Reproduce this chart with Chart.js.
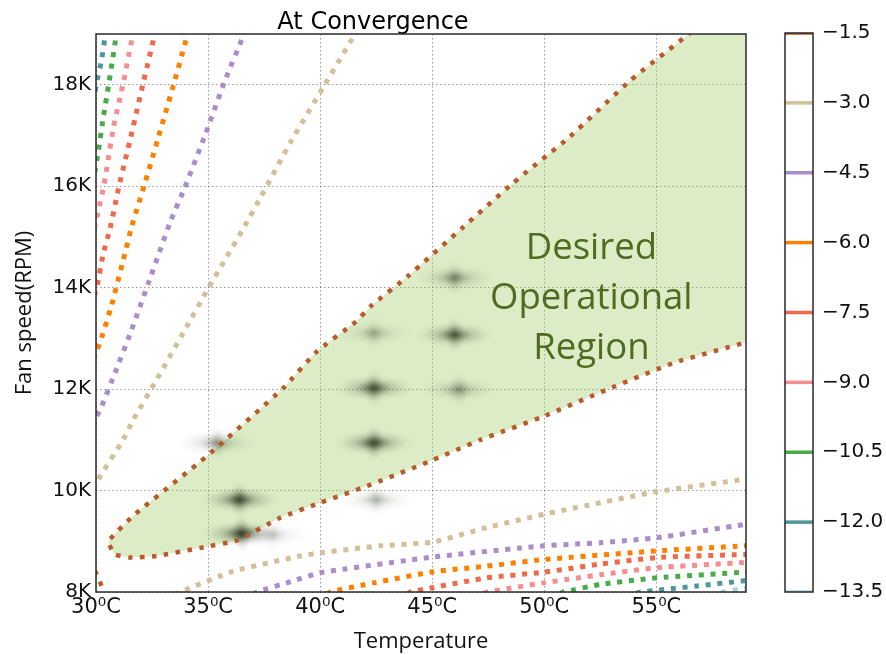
<!DOCTYPE html>
<html>
<head>
<meta charset="utf-8">
<script src="https://cdn.jsdelivr.net/npm/chart.js@4.4.1/dist/chart.umd.min.js"></script>
<style>
  html, body { margin: 0; padding: 0; background: #fff; }
  #wrap { position: relative; width: 886px; height: 655px; }
  #main { position: absolute; left: 0; top: 0; }
  #bar { position: absolute; left: 760px; top: 0; }
</style>
</head>
<body>
<div id="wrap">
  <canvas id="main" width="886" height="655"></canvas>
  <canvas id="bar" width="126" height="655"></canvas>
</div>
<script>
// Axis ticks
const tempTicks = [30, 35, 40, 45, 50, 55];
const rpmTicks = [8000, 10000, 12000, 14000, 16000, 18000];

// Contour levels shown on the colour bar
const levels = [-1.5, -3.0, -4.5, -6.0, -7.5, -9.0, -10.5, -12.0, -13.5];

// Contour paths: [temperature (°C), fan speed (RPM)]
const minus1_5Main = [[57.0,19200],[56.45,19000],[53.85,18090],[51.15,16980],[48.6,16060],[46.4,15200],[43.9,14220],[42.25,13630],[41.6,13330],[39.85,12740],[38.35,12020],[34.95,10680],[31.65,9500],[30.62,9040],[30.55,8970],[30.85,8740],[31.5,8680],[32.7,8710],[34.65,8870],[36.3,9020],[38.2,9460],[40.0,9760],[42.1,10090],[44.8,10560],[47.15,11000],[49.9,11450],[52.8,11990],[55.8,12520],[58.9,12910],[59.5,12990]];
const minus1_5Corner = [[29.95,8420],[30.1,8280],[30.4,7950]];
const minus3_0Left = [[41.7,19100],[41.56,19000],[40.15,17960],[38.66,16850],[37.32,15760],[36.58,15170],[35.76,14550],[35.01,13990],[33.97,13170],[32.71,12190],[31.67,11400],[31.22,11010],[30.10,10220],[29.9,10050]];
const minus3_0Right = [[33.5,7950],[33.75,8000],[36.13,8410],[39.11,8710],[40.15,8780],[42.68,8910],[45.0,8980],[47.44,9270],[49.96,9530],[52.5,9760],[55.04,9980],[58.9,10220],[59.5,10260]];
const minus4_5Left = [[36.65,19100],[36.55,18940],[35.76,18090],[34.87,17010],[33.94,15950],[33.30,15280],[32.45,14230],[31.59,13170],[30.85,12320],[30.25,11660],[30.03,11460],[29.9,11300]];
const minus4_5Right = [[37.0,7950],[37.17,8000],[38.81,8220],[40.0,8380],[45.06,8690],[49.97,8910],[52.5,8970],[55.03,9070],[58.9,9330],[59.5,9370]];
const minus6_0Left = [[34.12,19100],[34.05,18940],[33.50,18060],[32.78,16960],[32.19,16070],[31.59,15200],[31.22,14550],[30.70,13660],[30.25,13010],[30.06,12780],[29.9,12600]];
const minus6_0Right = [[40.3,7950],[40.45,8000],[42.38,8180],[45.06,8400],[47.44,8510],[49.97,8640],[55.03,8810],[58.9,8910],[59.5,8925]];
const minus7_5Left = [[32.65,19100],[32.59,18940],[32.11,18040],[31.52,16910],[31.04,16030],[30.63,15170],[30.33,14680],[30.06,14060],[29.9,13800]];
const minus7_5Right = [[43.9,7950],[44.02,8000],[45.06,8090],[47.44,8280],[49.97,8390],[52.5,8550],[55.03,8680],[58.9,8740],[59.5,8750]];
const minus9_0Left = [[31.68,19100],[31.62,18940],[31.22,18040],[30.77,17140],[30.36,16030],[30.13,15570],[29.9,15100]];
const minus9_0Right = [[47.3,7970],[47.44,8000],[49.97,8180],[52.5,8340],[55.03,8480],[58.9,8580],[59.5,8595]];
const minus10_5Left = [[30.93,19100],[30.89,18940],[30.58,18040],[30.33,17370],[30.10,16680],[29.9,16150]];
const minus10_5Right = [[50.7,7970],[50.86,8000],[52.5,8150],[55.03,8280],[58.9,8390],[59.5,8405]];
const minus12_0Left = [[30.45,19100],[30.40,18940],[30.25,18490],[30.03,18040],[29.95,17850]];
const minus12_0Right = [[54.1,7970],[54.29,8000],[56.8,8120],[58.9,8220],[59.5,8245]];
const minus13_5Right = [[57.9,7980],[58.0,8000],[58.9,8070],[59.5,8095]];

// Local minima of the convergence surface: [temperature, RPM, depth 0..1]
const hotspots = [
  [36.5, 9150, 1.0], [36.4, 9820, 0.9], [35.4, 10940, 0.45],
  [42.4, 10940, 0.9], [42.4, 12020, 0.85], [42.4, 13100, 0.3],
  [46.0, 13070, 0.8], [46.0, 14190, 0.5], [46.2, 11990, 0.4],
  [42.5, 9820, 0.3], [37.9, 9130, 0.2]
];

// Region annotation
const regionLabel = ['Desired', 'Operational', 'Region'];
const regionLabelAt = [52.1, 13830];

const palette = ['#b85a2a', '#d3bf98', '#ab8dc9', '#ff8000', '#f0694b', '#f58e8e', '#48ac48', '#4f979f', '#a9d3e6'];

const contourSegments = [
  [0, minus1_5Main], [0, minus1_5Corner],
  [1, minus3_0Left], [1, minus3_0Right],
  [2, minus4_5Left], [2, minus4_5Right],
  [3, minus6_0Left], [3, minus6_0Right],
  [4, minus7_5Left], [4, minus7_5Right],
  [5, minus9_0Left], [5, minus9_0Right],
  [6, minus10_5Left], [6, minus10_5Right],
  [7, minus12_0Left], [7, minus12_0Right],
  [8, minus13_5Right]
];

const toXY = arr => arr.map(p => ({ x: p[0], y: p[1] }));

const regionDataset = {
  label: 'region',
  data: toXY(minus1_5Main.concat([[59.6, 19300]])),
  fill: 'shape',
  backgroundColor: 'rgba(155,201,95,0.35)',
  borderColor: 'rgba(0,0,0,0)',
  borderWidth: 0,
  pointRadius: 0,
  tension: 0.15,
  clip: 0,
  order: 1
};

const contourDatasets = contourSegments.map(([li, seg]) => ({
  label: String(levels[li]),
  data: toXY(seg),
  borderColor: palette[li],
  borderWidth: li === 0 ? 4.5 : 5,
  borderDash: li === 0 ? [4.5, 7.5] : [5, 6.7],
  pointRadius: 0,
  fill: false,
  tension: 0.15,
  clip: 0,
  order: 0
}));

// Soft dark spots drawn over the filled region, under the contour lines
const spotsPlugin = {
  id: 'spots',
  afterDatasetDraw(chart, args) {
    if (chart.data.datasets[args.index].label !== 'region') return;
    const { ctx, chartArea, scales } = chart;
    ctx.save();
    ctx.beginPath();
    ctx.rect(chartArea.left, chartArea.top, chartArea.right - chartArea.left, chartArea.bottom - chartArea.top);
    ctx.clip();
    const lobe = (x, y, rx, ry, a) => {
      ctx.save();
      ctx.translate(x, y);
      ctx.scale(rx, ry);
      const g = ctx.createRadialGradient(0, 0, 0, 0, 0, 1);
      g.addColorStop(0, `rgba(22,34,10,${a})`);
      g.addColorStop(0.2, `rgba(22,34,10,${a * 0.75})`);
      g.addColorStop(0.5, `rgba(22,34,10,${a * 0.32})`);
      g.addColorStop(0.78, `rgba(22,34,10,${a * 0.08})`);
      g.addColorStop(1, 'rgba(22,34,10,0)');
      ctx.fillStyle = g;
      ctx.fillRect(-1, -1, 2, 2);
      ctx.restore();
    };
    hotspots.forEach(([t, r, s]) => {
      const x = scales.x.getPixelForValue(t);
      const y = scales.y.getPixelForValue(r);
      lobe(x, y, 40, 13, 0.55 * s);
      lobe(x, y, 11, 19, 0.45 * s);
      lobe(x, y, 18, 9, 0.35 * s);
    });
    ctx.restore();
  }
};

const labelPlugin = {
  id: 'regionLabel',
  afterDatasetsDraw(chart) {
    const { ctx, scales } = chart;
    const x = scales.x.getPixelForValue(regionLabelAt[0]);
    const y = scales.y.getPixelForValue(regionLabelAt[1]);
    ctx.save();
    ctx.font = '36.5px "Open Sans"';
    ctx.fillStyle = '#4e6b1f';
    ctx.textAlign = 'center';
    ctx.textBaseline = 'middle';
    regionLabel.forEach((line, i) => ctx.fillText(line, x, y + 2 + (i - 1) * 50));
    ctx.restore();
  }
};

const framePlugin = {
  id: 'frame',
  afterDraw(chart) {
    const { ctx, chartArea: a } = chart;
    ctx.save();
    ctx.strokeStyle = '#2a2a2a';
    ctx.lineWidth = 1.5;
    ctx.strokeRect(a.left, a.top, a.right - a.left, a.bottom - a.top);
    ctx.restore();
  }
};

new Chart(document.getElementById('main'), {
  type: 'line',
  data: { datasets: [regionDataset].concat(contourDatasets) },
  options: {
    responsive: false,
    animation: false,
    events: [],
    layout: { padding: { left: 0, right: 140, top: 0, bottom: 0 } },
    plugins: {
      legend: { display: false },
      tooltip: { enabled: false },
      title: {
        display: true,
        text: 'At Convergence',
        color: '#000',
        font: { family: 'DejaVu Sans', size: 24, weight: 'normal', lineHeight: 0.95 },
        padding: { top: 11, bottom: 0.2 }
      }
    },
    scales: {
      x: {
        type: 'linear', min: 30, max: 59,
        afterBuildTicks: s => { s.ticks = tempTicks.map(v => ({ value: v })); },
        afterFit: s => { s.height = 63; },
        grid: { color: 'rgba(0,0,0,0.4)', lineWidth: 1, drawTicks: false },
        border: { display: false, dash: [1.5, 2.5] },
        ticks: {
          padding: 3, color: '#111', maxRotation: 0,
          font: { family: 'DejaVu Sans', size: 21 },
          callback: v => v + '\u2070C'
        },
        title: {
          display: true, text: 'Temperature', color: '#111',
          font: { family: 'Open Sans', size: 22 },
          padding: { top: 0, bottom: 0 }
        }
      },
      y: {
        type: 'linear', min: 8000, max: 19000,
        afterBuildTicks: s => { s.ticks = rpmTicks.map(v => ({ value: v })); },
        afterFit: s => { s.width = 96; },
        grid: { color: 'rgba(0,0,0,0.4)', lineWidth: 1, drawTicks: false },
        border: { display: false, dash: [1.5, 2.5] },
        ticks: {
          padding: 5, color: '#111',
          font: { family: 'DejaVu Sans', size: 20 },
          callback: v => (v / 1000) + 'K'
        },
        title: {
          display: true, text: 'Fan speed(RPM)', color: '#111',
          font: { family: 'Open Sans', size: 22 },
          padding: { top: 12, bottom: 0 }
        }
      }
    }
  },
  plugins: [spotsPlugin, labelPlugin, framePlugin]
});

// Colour bar: one horizontal line per contour level
new Chart(document.getElementById('bar'), {
  type: 'line',
  data: {
    datasets: levels.map((lv, i) => ({
      label: String(lv),
      data: [{ x: 0, y: lv }, { x: 1, y: lv }],
      borderColor: palette[i],
      borderWidth: 3.5,
      pointRadius: 0,
      fill: false,
      clip: 0
    }))
  },
  options: {
    responsive: false,
    animation: false,
    events: [],
    layout: { padding: { left: 25, right: 0, top: 33, bottom: 63 } },
    plugins: { legend: { display: false }, tooltip: { enabled: false } },
    scales: {
      x: { type: 'linear', min: 0, max: 1, display: false },
      y: {
        type: 'linear', position: 'right', min: -13.5, max: -1.5,
        afterBuildTicks: s => { s.ticks = levels.map(v => ({ value: v })); },
        afterFit: s => { s.width = 73; },
        grid: { display: false, drawTicks: false },
        border: { display: false },
        ticks: {
          padding: 9, color: '#111',
          font: { family: 'DejaVu Sans', size: 20 },
          callback: v => (v < 0 ? '\u2212' : '') + Math.abs(v).toFixed(1)
        }
      }
    }
  },
  plugins: [framePlugin]
});
</script>
</body>
</html>
